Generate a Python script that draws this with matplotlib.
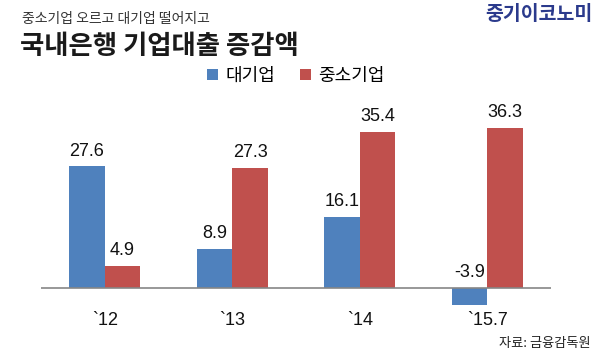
import matplotlib
matplotlib.use("Agg")
import matplotlib.pyplot as plt
import numpy as np

categories = ["`12", "`13", "`14", "`15.7"]
large = [27.6, 8.9, 16.1, -3.9]
sme = [4.9, 27.3, 35.4, 36.3]
series_names = ["대기업", "중소기업"]

KR = ["Noto Sans CJK KR", "DejaVu Sans"]
NUM = ["Liberation Sans", "DejaVu Sans"]
plt.rcParams["font.family"] = KR

BLUE = "#4F81BD"
RED = "#C0504D"

W, H = 600, 350
fig = plt.figure(figsize=(6, 3.5), dpi=100)
ax = fig.add_axes([41 / W, 40 / H, 510 / W, 210 / H])

x = np.arange(len(categories))
bw = 0.28
b1 = ax.bar(x - bw / 2, large, bw, color=BLUE, label=series_names[0], zorder=2)
b2 = ax.bar(x + bw / 2, sme, bw, color=RED, label=series_names[1], zorder=2)

ax.set_xlim(-0.5, len(categories) - 0.5)
ax.set_ylim(-5, 42.7)
ax.axhline(0, color="#868686", lw=1.2, zorder=3)
for s in ax.spines.values():
    s.set_visible(False)
ax.set_xticks([])
ax.set_yticks([])

for bars, vals in ((b1, large), (b2, sme)):
    for rect, v in zip(bars, vals):
        ax.annotate(f"{v:.1f}", (rect.get_x() + rect.get_width() / 2, max(v, 0)),
                    xytext=(0, 5), textcoords="offset points",
                    ha="center", va="bottom", fontsize=13, family=NUM, color="#111111")

for i, c in enumerate(categories):
    ax.text(i, -0.048, c, transform=ax.get_xaxis_transform(), ha="center", va="center",
            fontsize=13, family=NUM, color="#111111")

leg = ax.legend(loc="center", bbox_to_anchor=(296 / W, 1 - 76 / H), bbox_transform=fig.transFigure,
                ncol=2, frameon=False, fontsize=13, handlelength=0.6, handleheight=0.6,
                handletextpad=0.4, columnspacing=1.4)

fig.text(22 / W, 1 - 19 / H, "중소기업 오르고 대기업 떨어지고", fontsize=10, color="#333333",
         ha="left", va="center")
fig.text(20 / W, 1 - 47 / H, "국내은행 기업대출 증감액", fontsize=19, fontweight="bold",
         color="#1a1a1a", ha="left", va="center")
fig.text(592 / W, 1 - 14 / H, "중기이코노미", fontsize=14, fontweight="bold", color="#2B3A8C",
         ha="right", va="center")
fig.text(591 / W, 1 - 343 / H, "자료: 금융감독원", fontsize=9.5, color="#222222",
         ha="right", va="center")

fig.savefig("out.png", dpi=100)
